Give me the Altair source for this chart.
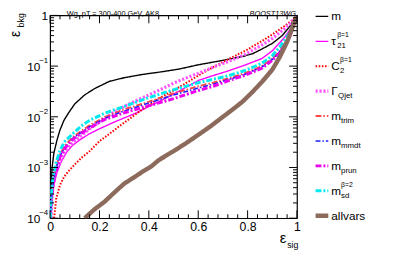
import altair as alt
import pandas as pd

# ---------------- data ----------------
series = ["m", "tau21", "C2", "GammaQjet", "m_trim", "m_mmdt", "m_prun", "m_sd", "allvars"]

m_x = [0.002, 0.005, 0.008, 0.015, 0.028, 0.04, 0.056, 0.075, 0.1, 0.14, 0.18, 0.24, 0.3, 0.37,
       0.45, 0.52, 0.6, 0.7, 0.78, 0.82, 0.86, 0.9, 0.94, 0.97, 1.0]
m_y = [2.5e-4, 5e-4, 1e-3, 1.9e-3, 3.5e-3, 5.5e-3, 8.5e-3, 0.012, 0.018, 0.027, 0.036, 0.050,
       0.059, 0.068, 0.077, 0.087, 0.106, 0.13, 0.155, 0.175, 0.22, 0.28, 0.4, 0.6, 1.0]

tau21_x = [0.003, 0.008, 0.015, 0.028, 0.045, 0.067, 0.09, 0.12, 0.155, 0.19, 0.25, 0.3, 0.35,
           0.4, 0.45, 0.5, 0.55, 0.6, 0.66, 0.72, 0.79, 0.857, 0.9, 0.95, 0.98, 1.0]
tau21_y = [1e-4, 2.5e-4, 4.5e-4, 8e-4, 1.3e-3, 2e-3, 2.7e-3, 3.5e-3, 4.5e-3, 5.5e-3, 7.5e-3,
           9.5e-3, 0.012, 0.016, 0.021, 0.028, 0.038, 0.052, 0.065, 0.08, 0.105, 0.14, 0.2,
           0.37, 0.6, 1.0]

C2_x = [0.016, 0.025, 0.04, 0.056, 0.075, 0.1, 0.13, 0.16, 0.2, 0.24, 0.28, 0.32, 0.36, 0.4,
        0.44, 0.5, 0.55, 0.6, 0.66, 0.72, 0.79, 0.857, 0.9, 0.95, 0.98, 1.0]
C2_y = [1e-4, 2.5e-4, 4.5e-4, 6.5e-4, 8.5e-4, 1.15e-3, 1.6e-3, 2.1e-3, 3.3e-3, 4.6e-3, 6.5e-3,
        9e-3, 0.0125, 0.017, 0.023, 0.033, 0.046, 0.065, 0.095, 0.135, 0.2, 0.31, 0.42, 0.62,
        0.8, 1.0]

GammaQjet_x = [0.003, 0.008, 0.015, 0.025, 0.04, 0.06, 0.08, 0.12, 0.16, 0.2, 0.25, 0.3, 0.35,
               0.4, 0.45, 0.5, 0.55, 0.6, 0.66, 0.72, 0.79, 0.857, 0.9, 0.95, 0.98, 1.0]
GammaQjet_y = [1e-4, 3e-4, 5.5e-4, 9e-4, 1.3e-3, 2e-3, 2.7e-3, 4e-3, 5.8e-3, 8e-3, 0.0115,
               0.016, 0.021, 0.027, 0.035, 0.046, 0.058, 0.072, 0.095, 0.122, 0.17, 0.26, 0.35,
               0.55, 0.75, 1.0]

groom_x = [0.002, 0.006, 0.012, 0.02, 0.03, 0.04, 0.06, 0.09, 0.12, 0.16, 0.22, 0.3, 0.39, 0.49,
           0.6, 0.66, 0.72, 0.79, 0.857, 0.9, 0.93, 0.97, 1.0]
m_trim_y = [1e-4, 2.8e-4, 5e-4, 8e-4, 1.3e-3, 1.8e-3, 2.7e-3, 3.9e-3, 5e-3, 6.8e-3, 9.8e-3,
            0.014, 0.019, 0.028, 0.040, 0.047, 0.057, 0.073, 0.099, 0.14, 0.2, 0.4, 1.0]
m_mmdt_y = [1e-4, 2.6e-4, 4.7e-4, 7.5e-4, 1.2e-3, 1.7e-3, 2.5e-3, 3.7e-3, 4.7e-3, 6.4e-3, 9.3e-3,
            0.013, 0.018, 0.026, 0.037, 0.044, 0.054, 0.069, 0.095, 0.135, 0.19, 0.38, 1.0]
m_prun_y = [1e-4, 2.5e-4, 4.5e-4, 7e-4, 1.1e-3, 1.6e-3, 2.4e-3, 3.5e-3, 4.5e-3, 6e-3, 8.8e-3,
            0.012, 0.016, 0.022, 0.033, 0.040, 0.051, 0.066, 0.09, 0.13, 0.18, 0.37, 1.0]

m_sd_x = [0.001, 0.005, 0.01, 0.016, 0.025, 0.04, 0.06, 0.095, 0.13, 0.16, 0.22, 0.3, 0.39, 0.49,
          0.6, 0.66, 0.72, 0.79, 0.857, 0.9, 0.93, 0.97, 1.0]
m_sd_y = [1e-4, 3e-4, 5.5e-4, 8e-4, 1.3e-3, 2.2e-3, 3.3e-3, 4.8e-3, 6.8e-3, 8.5e-3, 0.0117,
          0.016, 0.023, 0.033, 0.047, 0.055, 0.064, 0.082, 0.113, 0.16, 0.24, 0.45, 1.0]

allvars_x = [0.14, 0.18, 0.22, 0.26, 0.3, 0.34, 0.37, 0.41, 0.44, 0.5, 0.55, 0.6, 0.65, 0.7,
             0.74, 0.78, 0.82, 0.86, 0.9, 0.93, 0.96, 0.98, 1.0]
allvars_y = [1e-4, 1.5e-4, 2.1e-4, 3.2e-4, 4.8e-4, 6.4e-4, 8e-4, 1.05e-3, 1.4e-3, 2.1e-3, 3e-3,
             4.4e-3, 6.5e-3, 1e-2, 1.4e-2, 2e-2, 3.1e-2, 5e-2, 8.5e-2, 0.15, 0.3, 0.55, 1.0]

legend_main = ["m", "τ", "C", "Γ", "m", "m", "m", "m", "allvars"]
legend_sub = ["", "21", "2", "Qjet", "trim", "mmdt", "prun", "sd", ""]
legend_sup = ["", "β=1", "β=1", "", "", "", "", "β=2", ""]

x_major = [0, 0.2, 0.4, 0.6, 0.8, 1.0]
x_minor = [round(i * 0.04, 2) for i in range(26) if i % 5 != 0]
y_major = [1e-4, 1e-3, 1e-2, 1e-1, 1.0]
y_minor = [k * 10.0 ** e for e in range(-4, 0) for k in range(2, 10)]
y_exp = ["−4", "−3", "−2", "−1"]

title_text = "Wg, pT = 300-400 GeV, AK8"
tag_text = "BOOST13WG"

# ---------------- styling ----------------
colors = ["#000000", "#ff00ff", "#ff0000", "#ff55ff", "#ff4a4a", "#2020ff", "#ee00ee", "#00e8f0", "#8c6b5d"]
dashes = [[1, 0], [1, 0], [1.6, 1.6], [2.2, 1.8], [6, 2, 1.5, 2], [5, 2, 1.5, 2], [6, 2, 2, 2],
          [6, 2, 2, 2], [1, 0]]
widths = [1.4, 1.4, 2.0, 3.2, 2.0, 1.6, 3.0, 3.0, 4.5]

W, H = 252, 207
FONT = "Liberation Sans"

xs = alt.Scale(domain=[0, 1], nice=False, zero=False)
ys = alt.Scale(type="log", domain=[1e-4, 1], nice=False)
ly = alt.Scale(domain=[0, 8], range=[1, 204.5])

data_xy = {
    "m": (m_x, m_y), "tau21": (tau21_x, tau21_y), "C2": (C2_x, C2_y),
    "GammaQjet": (GammaQjet_x, GammaQjet_y), "m_trim": (groom_x, m_trim_y),
    "m_mmdt": (groom_x, m_mmdt_y), "m_prun": (groom_x, m_prun_y),
    "m_sd": (m_sd_x, m_sd_y), "allvars": (allvars_x, allvars_y),
}

x_axis = alt.Axis(values=x_major, format="~g", labelFont=FONT, labelFontSize=12.5,
                  labelColor="black", ticks=False, domain=False, grid=False,
                  labelPadding=3, labelFlush=False, title=None)

curve_layers = []
legend_rules = []
for i, name in enumerate(series):
    xv, yv = data_xy[name]
    d = pd.DataFrame({"x": xv, "y": yv, "k": list(range(len(xv)))})
    style = dict(color=colors[i], strokeDash=dashes[i], strokeWidth=widths[i],
                 strokeCap="butt")
    curve_layers.append(
        alt.Chart(d).mark_line(clip=True, strokeJoin="round", **style).encode(
            x=alt.X("x:Q", scale=xs, axis=x_axis if i == 0 else None),
            y=alt.Y("y:Q", scale=ys, axis=None),
            order=alt.Order("k:Q"),
        )
    )
    legend_rules.append(
        alt.Chart(pd.DataFrame({"idx": [i]})).mark_rule(**style).encode(
            y=alt.Y("idx:Q", scale=ly, axis=None), x=alt.value(271), x2=alt.value(284))
    )

# ticks (inward, on all four sides)
def xticks(vals, y0, y1):
    return alt.Chart(pd.DataFrame({"v": vals})).mark_rule(color="black", strokeWidth=1).encode(
        x=alt.X("v:Q", scale=xs, axis=None), y=alt.value(y0), y2=alt.value(y1))

def yticks(vals, x0, x1):
    return alt.Chart(pd.DataFrame({"v": vals})).mark_rule(color="black", strokeWidth=1).encode(
        y=alt.Y("v:Q", scale=ys, axis=None), x=alt.value(x0), x2=alt.value(x1))

ticks = [
    xticks(x_major, H, H - 8), xticks(x_minor, H, H - 4),
    xticks(x_major, 0, 8), xticks(x_minor, 0, 4),
    yticks(y_major, 0, 8), yticks(y_minor, 0, 4),
    yticks(y_major, W, W - 8), yticks(y_minor, W, W - 4),
]

# y tick labels "10" with exponent
ylab_df = pd.DataFrame({"v": y_major[:-1], "e": y_exp})
ylab10 = alt.Chart(ylab_df).mark_text(font=FONT, fontSize=12, align="right", baseline="middle",
                                      dy=1).encode(
    y=alt.Y("v:Q", scale=ys, axis=None), x=alt.value(-10), text=alt.value("10"))
ylabexp = alt.Chart(ylab_df).mark_text(font=FONT, fontSize=8, align="right", baseline="middle",
                                       dy=-5).encode(
    y=alt.Y("v:Q", scale=ys, axis=None), x=alt.value(-2), text="e:N")
ylab1 = alt.Chart(pd.DataFrame({"v": [1.0]})).mark_text(font=FONT, fontSize=12, align="right",
                                                        baseline="middle", dy=1).encode(
    y=alt.Y("v:Q", scale=ys, axis=None), x=alt.value(-2), text=alt.value("1"))

# axis titles and header texts
def txt(s, x, y, size, **kw):
    return alt.Chart(pd.DataFrame({"t": [s]})).mark_text(font=FONT, fontSize=size, **kw).encode(
        x=alt.value(x), y=alt.value(y), text="t:N")

xt1 = txt("ε", 241, 227, 15, align="right", baseline="middle")
xt2 = txt("sig", 242, 234, 9, align="left", baseline="middle")
yt1 = txt("ε", -35, 19, 14, align="center", baseline="middle", angle=270)
yt2 = txt("bkg", -30, 5, 9, align="center", baseline="middle", angle=270)
ttl = txt(title_text, 17, -5, 7.5, align="left", baseline="top")
tag = txt(tag_text, 251, -5, 7.5, align="right", baseline="top", fontStyle="italic")

# legend texts
glyph_w = {"m": 10, "τ": 6, "C": 9, "Γ": 7, "allvars": 0}
leg_df = pd.DataFrame({
    "idx": list(range(len(series))),
    "main": legend_main,
    "sub": legend_sub,
    "sup": legend_sup,
    "sx": [287 + glyph_w[s] for s in legend_main],
})
leg_main = alt.Chart(leg_df).mark_text(font=FONT, fontSize=12, align="left", baseline="middle").encode(
    y=alt.Y("idx:Q", scale=ly, axis=None), x=alt.value(287), text="main:N")
leg_sub = alt.Chart(leg_df).mark_text(font=FONT, fontSize=8, align="left", baseline="middle",
                                      dy=5).encode(
    y=alt.Y("idx:Q", scale=ly, axis=None), x=alt.X("sx:Q", scale=None, axis=None), text="sub:N")
leg_sup = alt.Chart(leg_df).mark_text(font=FONT, fontSize=7, align="left", baseline="middle",
                                      dy=-6).encode(
    y=alt.Y("idx:Q", scale=ly, axis=None), x=alt.X("sx:Q", scale=None, axis=None), text="sup:N")

chart = alt.layer(
    *curve_layers, *ticks, ylab10, ylabexp, ylab1, xt1, xt2, yt1, yt2, ttl, tag,
    *legend_rules, leg_main, leg_sub, leg_sup,
).resolve_scale(x="independent", y="independent").properties(
    width=W, height=H,
    padding={"left": 43, "top": 5, "right": 96, "bottom": 34},
    autosize=alt.AutoSizeParams(type="none"),
    background="white",
).configure_view(stroke="black", strokeWidth=1.2)

chart.save("out.html", embed_options={"renderer": "svg", "actions": False})
